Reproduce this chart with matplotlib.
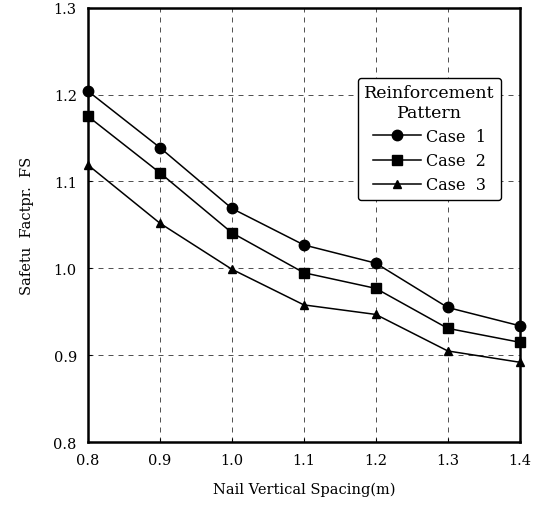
import matplotlib
matplotlib.use("Agg")
import matplotlib.pyplot as plt

# nail vertical spacing (m) and safety factor per reinforcement pattern
spacing = [0.8, 0.9, 1.0, 1.1, 1.2, 1.3, 1.4]
case1 = [1.204, 1.139, 1.069, 1.027, 1.006, 0.955, 0.934]
case2 = [1.175, 1.110, 1.041, 0.995, 0.977, 0.931, 0.915]
case3 = [1.119, 1.052, 0.999, 0.958, 0.947, 0.905, 0.892]

xticks = [0.8, 0.9, 1.0, 1.1, 1.2, 1.3, 1.4]
yticks = [0.8, 0.9, 1.0, 1.1, 1.2, 1.3]

plt.rcParams['font.family'] = ['DejaVu Serif']

fig = plt.figure(figsize=(5.33, 5.10), dpi=100)
ax = fig.add_axes([0.165, 0.131, 0.81, 0.852])

ax.plot(spacing, case1, color='black', lw=1.1, marker='o', ms=7.5, label='Case  1', clip_on=False, zorder=3)
ax.plot(spacing, case2, color='black', lw=1.1, marker='s', ms=7, label='Case  2', clip_on=False, zorder=3)
ax.plot(spacing, case3, color='black', lw=1.1, marker='^', ms=5.5, label='Case  3', clip_on=False, zorder=3)

ax.set_xlim(0.8, 1.4)
ax.set_ylim(0.8, 1.3)
ax.set_xticks(xticks)
ax.set_yticks(yticks)
ax.set_xticklabels(['%.1f' % v for v in xticks], fontsize=10.5)
ax.set_yticklabels(['%.1f' % v for v in yticks], fontsize=10.5)
ax.tick_params(length=3, direction='in', pad=8)
ax.grid(True, ls=(0, (6, 6)), color='black', lw=0.6, alpha=0.8)

for s in ax.spines.values():
    s.set_linewidth(1.8)

ax.set_xlabel('Nail Vertical Spacing(m)', fontsize=10.5, labelpad=10)
ax.set_ylabel('Safetu  Factpr.  FS', fontsize=10.5, labelpad=14)

leg = ax.legend(title='Reinforcement\nPattern', loc='upper right', bbox_to_anchor=(0.975, 0.857),
                fontsize=11.5, title_fontsize=12.5, handlelength=3.0, handletextpad=0.3,
                labelspacing=0.45, fancybox=True, framealpha=1, edgecolor='black',
                borderpad=0.4, alignment='center')
leg.get_title().set_multialignment('center')
leg.get_frame().set_linewidth(1.0)

fig.savefig('out.png', dpi=100)
